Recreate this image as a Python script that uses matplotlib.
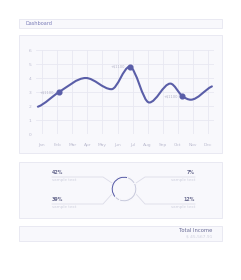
import numpy as np
import matplotlib
matplotlib.use("Agg")
import matplotlib.pyplot as plt
from matplotlib.patches import Rectangle
from matplotlib.path import Path
from matplotlib.patches import PathPatch

# --- data ---
months = ["Jan", "Feb", "Mar", "Apr", "May", "Jun",
          "Jul", "Aug", "Sep", "Oct", "Nov", "Dec"]
y_labels = ["0", "1", "2", "3", "4", "5", "6"]
# curve knots: month position, value
curve_x = [-0.27, 1.13, 2.9, 4.6, 5.8, 7.1, 8.5, 9.3, 9.85, 11.25]
curve_y = [1.95, 3.0, 4.0, 3.2, 4.8, 2.25, 3.6, 2.7, 2.45, 3.4]
marker_idx = [1, 4, 7]
marker_text = ["+$1100", "+$1100", "+$1100"]
pct_values = [42, 7, 39, 12]
pct_labels = ["42%", "7%", "39%", "12%"]
total_label = "Total Income"
total_value = "$ 45,567.91"

W, H = 241, 280
DARK = "#5a5ea8"
PANEL = "#f8f8fc"
EDGE = "#e6e6f0"
GRID = "#e8e8f2"

fig = plt.figure(figsize=(W / 100, H / 100), dpi=100)
fig.patch.set_facecolor("white")

# background axes in pixel coordinates (y down)
bg = fig.add_axes([0, 0, 1, 1])
bg.set_xlim(0, W); bg.set_ylim(H, 0); bg.axis("off")


def panel(x0, y0, x1, y1):
    bg.add_patch(Rectangle((x0, y0), x1 - x0, y1 - y0, facecolor=PANEL,
                           edgecolor=EDGE, linewidth=0.6))


panel(19, 19, 222, 28)
panel(19, 35, 222, 153)
panel(19, 162, 222, 218)
panel(19, 226, 222, 241)

bg.text(25, 23.5, "Dashboard", fontsize=3.6, color="#7a7cb8", va="center")
bg.text(212, 231, total_label, fontsize=3.8, color="#6a6c96", ha="right", va="center")
bg.text(212, 237, total_value, fontsize=3.2, color="#cfd0de", ha="right", va="center")

# --- line chart ---
ax = fig.add_axes([36 / W, (H - 134) / H, (214 - 36) / W, 84 / H])
ax.set_facecolor("none")
ax.set_xlim(-0.4, 11.39); ax.set_ylim(0, 6)
ax.set_xticks(range(len(months)))
ax.set_xticklabels(months)
ax.set_yticks(range(len(y_labels)))
ax.set_yticklabels(y_labels)
ax.tick_params(length=0, labelsize=3.2, labelcolor="#bcbcd0")
ax.tick_params(axis="x", pad=6.5)
ax.tick_params(axis="y", pad=3.5)
ax.grid(True, color=GRID, linewidth=0.6, zorder=0)
ax.set_axisbelow(True)
for s in ax.spines.values():
    s.set_visible(False)

# smooth curve through knots (hermite -> bezier), flat at extrema
xs = np.array(curve_x); ys = np.array(curve_y)
n = len(xs)
slopes = np.zeros(n)
for i in range(n):
    if 0 < i < n - 1:
        s0 = (ys[i] - ys[i - 1]) / (xs[i] - xs[i - 1])
        s1 = (ys[i + 1] - ys[i]) / (xs[i + 1] - xs[i])
        slopes[i] = 0 if s0 * s1 <= 0 else (s0 + s1) / 2
    elif i == 0:
        slopes[i] = 0.4
    else:
        slopes[i] = 0.5
verts = [(xs[0], ys[0])]
codes = [Path.MOVETO]
for i in range(n - 1):
    dx = (xs[i + 1] - xs[i]) / 3
    verts += [(xs[i] + dx, ys[i] + slopes[i] * dx),
              (xs[i + 1] - dx, ys[i + 1] - slopes[i + 1] * dx),
              (xs[i + 1], ys[i + 1])]
    codes += [Path.CURVE4] * 3
ax.add_patch(PathPatch(Path(verts, codes), facecolor="none", edgecolor=DARK,
                       linewidth=1.5, capstyle="round", joinstyle="round",
                       zorder=3))
for k, i in enumerate(marker_idx):
    ax.plot(xs[i], ys[i], "o", color=DARK, markersize=3.4, zorder=4)
    ax.text(xs[i] - 0.3, ys[i], marker_text[k], fontsize=2.6, color="#b4b4c8",
            ha="right", va="center")

# --- donut ---
dax = fig.add_axes([110.5 / W, (H - 202.5) / H, 27 / W, 27 / H])
dax.pie(pct_values, colors=[DARK, "#c9cbdd", "#c9cbdd", "#c9cbdd"],
        startangle=72, counterclock=True, radius=1,
        wedgeprops=dict(width=0.17, edgecolor=PANEL, linewidth=0.8))
dax.set_xlim(-1.05, 1.05); dax.set_ylim(-1.05, 1.05)
dax.set_aspect("equal")

LINE = "#dcdce8"
# connectors: (label x, label align, line y, elbow x, end x, end y)
conn = [(52, "left", 177, 103, 112, 183),
        (195, "right", 177, 145, 136, 183),
        (52, "left", 204, 103, 112, 194),
        (195, "right", 204, 145, 136, 194)]
for k, (lx, ha, ly, ex, tx, ty) in enumerate(conn):
    bg.plot([lx, ex, tx], [ly, ly, ty], color=LINE, linewidth=0.6)
    bg.text(lx, ly - 4.5, pct_labels[k], fontsize=3.4, color="#6a6c90",
            fontweight="bold", ha=ha, va="center")
    bg.text(lx, ly + 3, "sample text", fontsize=3.0, color="#cfd0de",
            ha=ha, va="center")

fig.savefig("out.png", dpi=100, facecolor="white")
